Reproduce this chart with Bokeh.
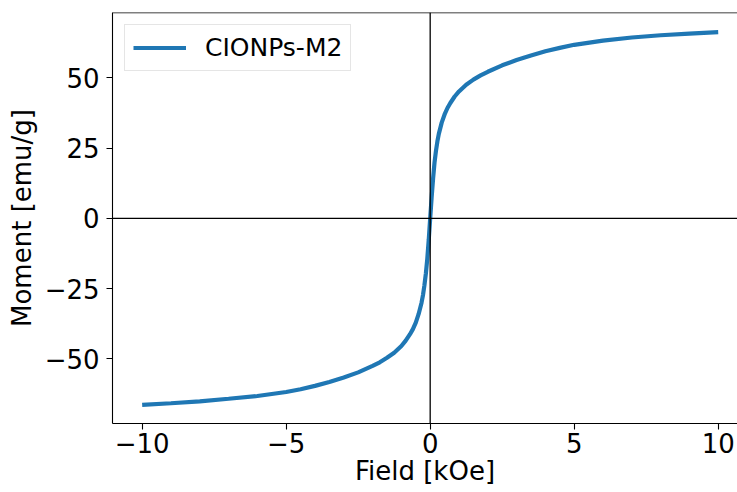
from bokeh.plotting import figure
from bokeh.models import Range1d, FixedTicker, Span, Legend, LegendItem
from bokeh.embed import file_html
from bokeh.resources import INLINE

# ---- data ----
field_neg = [-10.0, -9.0, -8.0, -7.0, -6.0, -5.0, -4.5, -4.0, -3.5, -3.0, -2.5, -2.0,
             -1.75, -1.5, -1.25, -1.0, -0.85, -0.7, -0.6, -0.5, -0.4, -0.3, -0.25,
             -0.2, -0.15, -0.1, -0.05]
moment_neg = [-66.4, -65.8, -65.1, -64.2, -63.2, -61.8, -60.8, -59.6, -58.2, -56.6, -54.8, -52.5,
              -51.2, -49.6, -47.8, -45.4, -43.5, -41.2, -39.4, -37.1, -34.0, -30.0, -27.3,
              -23.8, -19.6, -14.3, -7.6]
field_pos = [0.0, 0.05, 0.1, 0.15, 0.2, 0.25, 0.3, 0.4, 0.5, 0.6, 0.7, 0.85, 1.0, 1.25,
             1.5, 1.75, 2.0, 2.5, 3.0, 3.5, 4.0, 4.5, 5.0, 6.0, 7.0, 8.0, 9.0, 10.0]
moment_pos = [0.0, 7.4, 14.1, 19.8, 24.0, 27.4, 30.1, 34.1, 37.0, 39.3, 41.1, 43.4, 45.2, 47.6,
              49.4, 50.9, 52.2, 54.5, 56.4, 58.0, 59.5, 60.7, 61.8, 63.3, 64.4, 65.2, 65.8, 66.3]

series_name = "CIONPs-M2"
x_ticks = [-10, -5, 0, 5, 10]
x_tick_labels = ["\u221210", "\u22125", "0", "5", "10"]
y_ticks = [-50, -25, 0, 25, 50]
y_tick_labels = ["\u221250", "\u221225", "0", "25", "50"]
x_label = "Field [kOe]"
y_label = "Moment [emu/g]"

field = field_neg + field_pos
moment = moment_neg + moment_pos

FONT = "DejaVu Sans"
FS = "26px"
BLUE = "#1f77b4"

x_min, x_max = -11.03, 10.67
y_min, y_max = -73.0, 73.3

p = figure(width=737, height=492, output_backend="svg", toolbar_location=None,
           x_range=Range1d(x_min, x_max), y_range=Range1d(y_min, y_max))
p.min_border_left = 112
p.min_border_right = 0
p.min_border_top = 12
p.min_border_bottom = 69
p.outline_line_color = None
p.grid.visible = False
p.background_fill_color = "white"
p.border_fill_color = "white"

r = p.line(field, moment, line_color=BLUE, line_width=4.2)

for ax in (p.xaxis[0], p.yaxis[0]):
    ax.axis_line_color = "black"
    ax.axis_line_width = 1.1
    ax.major_tick_line_color = "black"
    ax.major_tick_line_width = 1.1
    ax.major_tick_in = 0
    ax.major_tick_out = 6
    ax.minor_tick_line_color = None
    ax.major_label_text_font = FONT
    ax.major_label_text_font_size = FS
    ax.major_label_text_color = "black"
    ax.axis_label_text_font = FONT
    ax.axis_label_text_font_size = FS
    ax.axis_label_text_font_style = "normal"
    ax.axis_label_text_color = "black"

p.xaxis[0].ticker = FixedTicker(ticks=x_ticks)
p.xaxis[0].major_label_overrides = {t: s for t, s in zip(x_ticks, x_tick_labels)}
p.xaxis[0].major_label_standoff = 3
p.xaxis[0].axis_label = x_label
p.xaxis[0].axis_label_standoff = 0
p.xaxis[0].axis_label_text_baseline = "top"
p.yaxis[0].ticker = FixedTicker(ticks=y_ticks)
p.yaxis[0].major_label_overrides = {t: s for t, s in zip(y_ticks, y_tick_labels)}
p.yaxis[0].major_label_standoff = 7
p.yaxis[0].axis_label = y_label
p.yaxis[0].axis_label_standoff = 5

# zero lines and top spine
p.add_layout(Span(location=0, dimension="height", line_color="black", line_width=1.3))
p.add_layout(Span(location=0, dimension="width", line_color="black", line_width=1.3))
p.add_layout(Span(location=y_max, dimension="width", line_color="black", line_width=1.5))

legend = Legend(items=[LegendItem(label=series_name, renderers=[r])], location="top_left")
legend.label_text_font = FONT
legend.label_text_font_size = "25px"
legend.label_text_color = "black"
legend.glyph_width = 53
legend.glyph_height = 29
legend.label_standoff = 19
legend.padding = 8
legend.margin = 12
legend.border_line_color = "#cccccc"
legend.border_line_width = 1.3
legend.background_fill_alpha = 0.8
p.add_layout(legend)

open("out.html", "w").write(file_html(p, INLINE))
